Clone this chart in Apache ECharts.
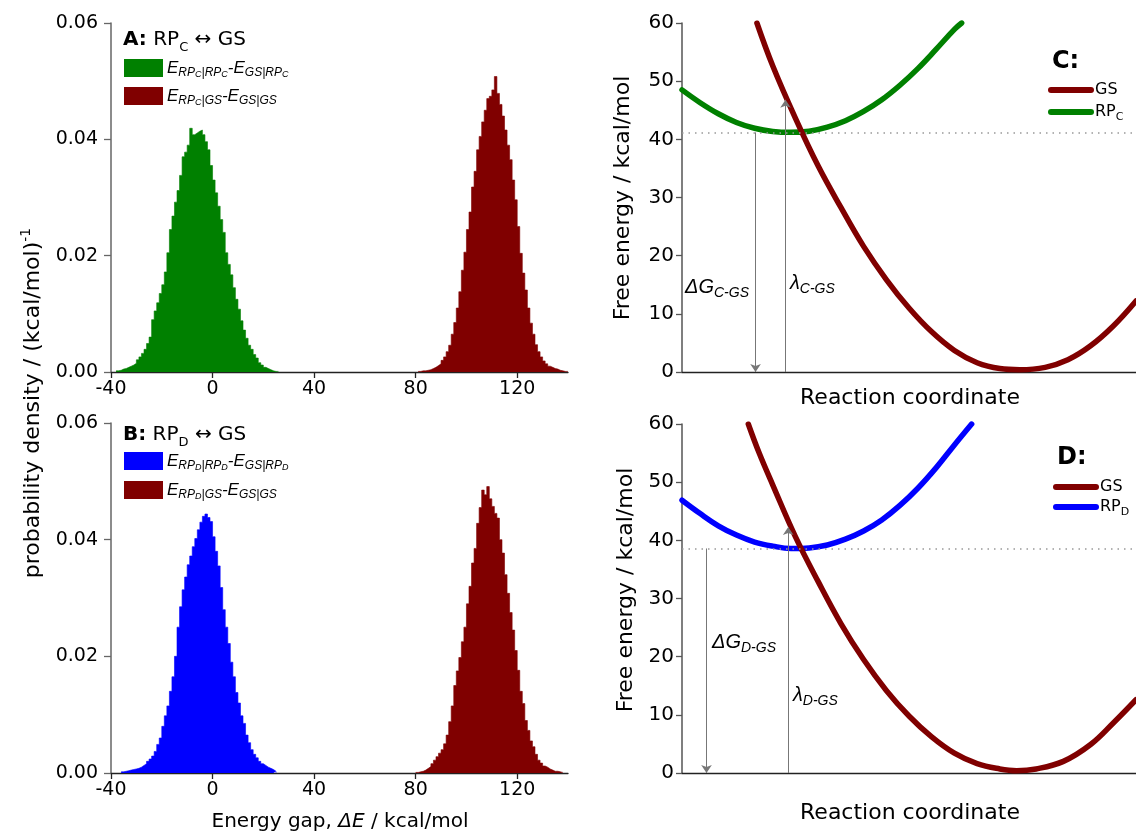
<!DOCTYPE html>
<html>
<head>
<meta charset="utf-8">
<script src="https://cdn.jsdelivr.net/npm/echarts@6/dist/echarts.min.js"></script>
<style>
  html, body { margin: 0; padding: 0; background: #fff; }
  #chart { width: 1136px; height: 838px; }
</style>
</head>
<body>
<div id="chart"></div>
<script>
// histogram bins, 1 kcal/mol wide, first value is the bin at *Start
var BIN = 1;
var gapTicks = [-40, 0, 40, 80, 120];
var densTicks = [0, 0.02, 0.04, 0.06];

var aGreenStart = -38;
var aGreen = [0.0002,0.0003,0.0005,0.0006,0.0008,0.0010,0.0012,0.0015,0.0021,0.0026,
  0.0032,0.0039,0.0049,0.0060,0.0090,0.0105,0.0119,0.0135,0.0150,0.0172,
  0.0205,0.0245,0.0268,0.0292,0.0312,0.0338,0.0370,0.0378,0.0390,0.0419,
  0.0408,0.0411,0.0414,0.0416,0.0408,0.0396,0.0382,0.0355,0.0330,0.0308,
  0.0285,0.0262,0.0240,0.0205,0.0185,0.0167,0.0145,0.0125,0.0108,0.0088,
  0.0072,0.0058,0.0046,0.0039,0.0030,0.0024,0.0016,0.0012,0.0008,0.0006,
  0.0004,0.0002,0.0001,0.0001];

var aRedStart = 81;
var aRed = [0.0001,0.0002,0.0002,0.0003,0.0004,0.0006,0.0008,0.0011,0.0014,
  0.0020,0.0026,0.0035,0.0046,0.0065,0.0085,0.0110,0.0138,0.0175,0.0206,
  0.0245,0.0275,0.0318,0.0345,0.0382,0.0405,0.0430,0.0450,0.0470,0.0474,
  0.0485,0.0508,0.0479,0.0460,0.0440,0.0416,0.0390,0.0365,0.0330,0.0296,
  0.0250,0.0204,0.0170,0.0141,0.0110,0.0084,0.0065,0.0047,0.0035,0.0026,
  0.0019,0.0014,0.0010,0.0008,0.0006,0.0005,0.0003,0.0002,0.0001,0.0001];

var bBlueStart = -36;
var bBlue = [0.0002,0.0003,0.0004,0.0005,0.0006,0.0007,0.0008,
  0.0010,0.0013,0.0016,0.0020,0.0024,0.0029,0.0037,0.0049,0.0060,0.0080,
  0.0098,0.0115,0.0140,0.0165,0.0200,0.0250,0.0285,0.0314,0.0336,0.0357,
  0.0372,0.0388,0.0402,0.0417,0.0430,0.0440,0.0444,0.0438,0.0431,0.0405,
  0.0380,0.0355,0.0318,0.0280,0.0250,0.0222,0.0190,0.0165,0.0138,0.0120,
  0.0098,0.0085,0.0065,0.0052,0.0040,0.0032,0.0026,0.0020,0.0016,0.0013,
  0.0010,0.0008,0.0006,0.0003];

var bRedStart = 80;
var bRed = [0.0001,0.0002,0.0003,0.0005,0.0008,0.0011,0.0016,0.0022,0.0028,0.0034,
  0.0040,0.0050,0.0065,0.0088,0.0115,0.0150,0.0175,0.0198,0.0225,0.0250,
  0.0290,0.0320,0.0360,0.0385,0.0428,0.0455,0.0485,0.0477,0.0491,0.0470,
  0.0457,0.0445,0.0437,0.0400,0.0377,0.0340,0.0308,0.0275,0.0245,0.0210,
  0.0176,0.0140,0.0119,0.0090,0.0073,0.0055,0.0045,0.0032,0.0022,0.0017,
  0.0012,0.0010,0.0007,0.0005,0.0003,0.0003,0.0002,0.0001];

// free energy curves, [reaction coordinate (0-100), kcal/mol]
var energyTicks = [0, 10, 20, 30, 40, 50, 60];
var cGS = [[16.5,60],[20,52.6],[25,43.6],[30,35.4],[35,28.3],[40,21.6],[45,15.9],[50,11.0],
  [55,6.9],[60,3.7],[65,1.6],[70,0.6],[74.4,0.4],[80,0.8],[85,2.1],[90,4.5],[95,7.9],[100,12.2]];
var cRP = [[0,48.5],[4,46.3],[8,44.4],[12,42.9],[16,41.9],[20,41.35],[24,41.2],[28,41.4],[32,42.1],
  [36,43.2],[40,44.8],[44,46.8],[48,49.3],[52,52.2],[56,55.5],[60,58.9],[61.6,60]];
var dGS = [[14.6,60],[17,55.0],[20,49.5],[25,40.6],[30,32.9],[35,25.7],[40,19.5],[45,14.2],[50,9.8],
  [55,6.2],[60,3.4],[65,1.6],[70,0.7],[73.7,0.4],[78,0.7],[84,2.0],[90,4.9],[95,8.6],[100,12.6]];
var dRP = [[0,46.9],[4,44.6],[8,42.5],[12,40.9],[16,39.7],[20,39.0],[24,38.6],[28,38.7],[32,39.2],
  [36,40.2],[40,41.6],[44,43.5],[48,46.0],[52,49.0],[56,52.5],[60,56.4],[63.8,60]];

// levels and arrows: [x, from, to]
var cLevel = 41.2;
var dLevel = 38.6;
var cDeltaG = [16.2, 41.2, 0];
var cLambda = [22.8, 0, 46.8];
var dDeltaG = [5.4, 38.6, 0];
var dLambda = [23.4, 0, 42.3];

var GREEN = '#008000', DARKRED = '#800000', BLUE = '#0000ff';
var FONT = 'DejaVu Sans';
var SANS = 'Liberation Sans';

// step outline of the histogram: each bin edge, then close at the last edge
function toSteps(start, values) {
  var pts = values.map(function (v, i) { return [start + i * BIN, v]; });
  pts.push([start + values.length * BIN, 0]);
  return pts;
}

function histSeries(idx, start, values, color) {
  return {
    type: 'line', xAxisIndex: idx, yAxisIndex: idx, step: 'end',
    data: toSteps(start, values), showSymbol: false, silent: true,
    lineStyle: { width: 0.6, color: color },
    areaStyle: { color: color, opacity: 1 },
    itemStyle: { color: color }
  };
}

function gapAxis(idx) {
  return {
    type: 'value', gridIndex: idx, min: -40, max: 140, interval: 40,
    axisLine: { onZero: false, lineStyle: { color: '#222', width: 1.3 } },
    axisTick: { length: 6, customValues: gapTicks, lineStyle: { color: '#222', width: 1.3 } },
    axisLabel: { customValues: gapTicks, fontFamily: FONT, fontSize: 19, color: '#000', margin: 8 },
    splitLine: { show: false }
  };
}

function densAxis(idx) {
  return {
    type: 'value', gridIndex: idx, min: 0, max: 0.06, interval: 0.02,
    axisLine: { show: true, onZero: false, lineStyle: { color: '#666', width: 1.5 } },
    axisTick: { show: true, length: 7, customValues: densTicks, lineStyle: { color: '#666', width: 1.3 } },
    axisLabel: { customValues: densTicks, fontFamily: FONT, fontSize: 19, color: '#000', margin: 13,
      formatter: function (v) { return v.toFixed(2); } },
    splitLine: { show: false }
  };
}

function rcAxis(idx) {
  return {
    type: 'value', gridIndex: idx, min: 0, max: 100,
    axisLine: { onZero: false, lineStyle: { color: '#222', width: 1.3 } },
    axisTick: { show: false }, axisLabel: { show: false }, splitLine: { show: false }
  };
}

function energyAxis(idx) {
  return {
    type: 'value', gridIndex: idx, min: 0, max: 60, interval: 10,
    axisLine: { show: true, onZero: false, lineStyle: { color: '#555', width: 1.5 } },
    axisTick: { show: true, length: 6, customValues: energyTicks, lineStyle: { color: '#555', width: 1.3 } },
    axisLabel: { customValues: energyTicks, fontFamily: FONT, fontSize: 20, color: '#000', margin: 8 },
    splitLine: { show: false }
  };
}

function arrowLine(a) {
  return [{ coord: [a[0], a[1]] }, { coord: [a[0], a[2]] }];
}

// dotted level of the RP minimum
function levelSeries(idx, level) {
  return {
    type: 'line', xAxisIndex: idx, yAxisIndex: idx, data: [], z: 1, silent: true,
    markLine: {
      silent: true, animation: false, label: { show: false },
      symbol: ['none', 'none'],
      lineStyle: { color: '#999', width: 1.5, type: [1.5, 5] },
      data: [{ yAxis: level }]
    }
  };
}

function arrowSeries(idx, dg, lam) {
  return {
    type: 'line', xAxisIndex: idx, yAxisIndex: idx, data: [], z: 1, silent: true,
    markLine: {
      silent: true, animation: false, label: { show: false },
      symbol: ['none', 'arrow'], symbolSize: 8,
      lineStyle: { color: '#777', width: 1, type: 'solid' },
      data: [arrowLine(dg), arrowLine(lam)]
    }
  };
}

function curveSeries(idx, data, color) {
  return {
    type: 'line', xAxisIndex: idx, yAxisIndex: idx, data: data, smooth: 0.4,
    showSymbol: false, z: 3, clip: true, silent: true,
    lineStyle: { color: color, width: 5.5, cap: 'round' }
  };
}

// rich text helpers
var richTitle = {
  b: { fontFamily: FONT, fontSize: 20, fontWeight: 'bold', color: '#000', lineHeight: 28 },
  n: { fontFamily: FONT, fontSize: 20, color: '#000', lineHeight: 28 },
  s: { fontFamily: FONT, fontSize: 13, color: '#000', lineHeight: 14, verticalAlign: 'bottom' }
};
var richLegend = {
  e: { fontFamily: SANS, fontSize: 17, fontStyle: 'italic', color: '#000', lineHeight: 22 },
  s: { fontFamily: SANS, fontSize: 12, fontStyle: 'italic', color: '#000', lineHeight: 12, verticalAlign: 'bottom' },
  ss: { fontFamily: SANS, fontSize: 9, fontStyle: 'italic', color: '#000', lineHeight: 5, verticalAlign: 'bottom' }
};
var richAnnot = {
  g: { fontFamily: SANS, fontSize: 20, fontStyle: 'italic', color: '#000', lineHeight: 26 },
  s: { fontFamily: SANS, fontSize: 14, fontStyle: 'italic', color: '#000', lineHeight: 14, verticalAlign: 'bottom' }
};
var richKey = {
  n: { fontFamily: FONT, fontSize: 16, color: '#000', lineHeight: 22 },
  s: { fontFamily: FONT, fontSize: 11, color: '#000', lineHeight: 11, verticalAlign: 'bottom' }
};

function txt(x, y, text, rich, opt) {
  opt = opt || {};
  return {
    type: 'text', x: x, y: y, rotation: opt.rotation || 0, silent: true,
    style: { text: text, rich: rich, align: opt.align || 'left', verticalAlign: 'middle',
      fontFamily: FONT, fontSize: opt.fontSize || 20, fill: '#000' }
  };
}

function box(x, y, color) {
  return { type: 'rect', silent: true, shape: { x: x, y: y, width: 39, height: 18 }, style: { fill: color } };
}

function keyLine(x, y, color) {
  return { type: 'line', silent: true, shape: { x1: x, y1: y, x2: x + 40, y2: y },
    style: { stroke: color, lineWidth: 6, lineCap: 'round' } };
}

var chart = echarts.init(document.getElementById('chart'));
chart.setOption({
  animation: false,
  backgroundColor: '#fff',
  grid: [
    { left: 111, top: 23, width: 457, height: 349 },
    { left: 111, top: 423, width: 457, height: 350 },
    { left: 682, top: 23, width: 454, height: 349 },
    { left: 682, top: 424, width: 454, height: 349 }
  ],
  xAxis: [gapAxis(0), gapAxis(1), rcAxis(2), rcAxis(3)],
  yAxis: [densAxis(0), densAxis(1), energyAxis(2), energyAxis(3)],
  series: [
    histSeries(0, aGreenStart, aGreen, GREEN),
    histSeries(0, aRedStart, aRed, DARKRED),
    histSeries(1, bBlueStart, bBlue, BLUE),
    histSeries(1, bRedStart, bRed, DARKRED),
    levelSeries(2, cLevel),
    arrowSeries(2, cDeltaG, cLambda),
    curveSeries(2, cRP, GREEN),
    curveSeries(2, cGS, DARKRED),
    levelSeries(3, dLevel),
    arrowSeries(3, dDeltaG, dLambda),
    curveSeries(3, dRP, BLUE),
    curveSeries(3, dGS, DARKRED)
  ],
  graphic: [
    // panel A
    txt(123, 40, '{b|A:}{n| RP}{s|C}{n| \u2194 GS}', richTitle),
    box(124, 59, GREEN),
    box(124, 87, DARKRED),
    txt(167, 68, '{e|E}{s|RP}{ss|C}{s||RP}{ss|C}{e|-E}{s|GS|RP}{ss|C}', richLegend),
    txt(167, 96, '{e|E}{s|RP}{ss|C}{s||GS}{e|-E}{s|GS|GS}', richLegend),
    // panel B
    txt(123, 435, '{b|B:}{n| RP}{s|D}{n| \u2194 GS}', richTitle),
    box(124, 452, BLUE),
    box(124, 481, DARKRED),
    txt(167, 461, '{e|E}{s|RP}{ss|D}{s||RP}{ss|D}{e|-E}{s|GS|RP}{ss|D}', richLegend),
    txt(167, 490, '{e|E}{s|RP}{ss|D}{s||GS}{e|-E}{s|GS|GS}', richLegend),
    // left axis titles
    txt(33, 403, '{n|probability density / (kcal/mol)}{p|-1}', {
      n: { fontFamily: FONT, fontSize: 22, color: '#000', lineHeight: 28 },
      p: { fontFamily: FONT, fontSize: 14, color: '#000', lineHeight: 14, verticalAlign: 'top' }
    }, { align: 'center', rotation: Math.PI / 2 }),
    txt(340, 822, '{n|Energy gap, }{i|\u0394E}{n| / kcal/mol}', {
      n: { fontFamily: FONT, fontSize: 20, color: '#000' },
      i: { fontFamily: FONT, fontSize: 20, fontStyle: 'italic', color: '#000' }
    }, { align: 'center' }),
    // panel C
    txt(623, 198, 'Free energy / kcal/mol', null, { align: 'center', rotation: Math.PI / 2, fontSize: 22 }),
    txt(910, 398, 'Reaction coordinate', null, { align: 'center', fontSize: 22 }),
    txt(685, 287, '{g|\u0394G}{s|C-GS}', richAnnot),
    txt(790, 283, '{g|\u03bb}{s|C-GS}', richAnnot),
    txt(1052, 62, '{b|C:}', { b: { fontFamily: FONT, fontSize: 24, fontWeight: 'bold', color: '#000' } }),
    keyLine(1051, 90, DARKRED),
    keyLine(1051, 112, GREEN),
    txt(1095, 90, '{n|GS}', richKey),
    txt(1095, 112, '{n|RP}{s|C}', richKey),
    // panel D
    txt(626, 590, 'Free energy / kcal/mol', null, { align: 'center', rotation: Math.PI / 2, fontSize: 22 }),
    txt(910, 813, 'Reaction coordinate', null, { align: 'center', fontSize: 22 }),
    txt(712, 642, '{g|\u0394G}{s|D-GS}', richAnnot),
    txt(793, 695, '{g|\u03bb}{s|D-GS}', richAnnot),
    txt(1057, 458, '{b|D:}', { b: { fontFamily: FONT, fontSize: 24, fontWeight: 'bold', color: '#000' } }),
    keyLine(1056, 487, DARKRED),
    keyLine(1056, 507, BLUE),
    txt(1100, 487, '{n|GS}', richKey),
    txt(1100, 507, '{n|RP}{s|D}', richKey)
  ]
});
</script>
</body>
</html>
